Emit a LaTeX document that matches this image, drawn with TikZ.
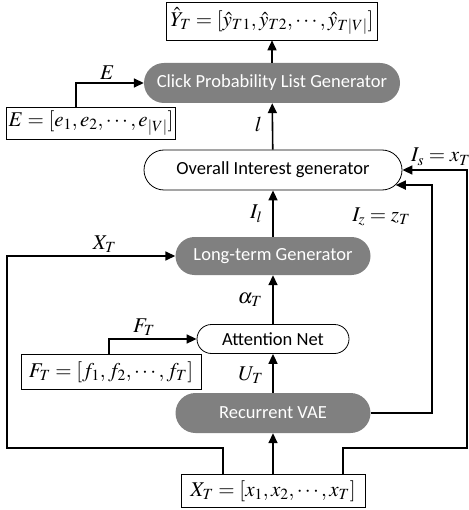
\documentclass[tikz,border=0pt]{standalone}
\usepackage{mathptmx}
\usepackage[no-math]{fontspec}
\setsansfont{Carlito}
\usepackage{tikz}
\usetikzlibrary{arrows.meta,positioning,shapes.misc}
\definecolor{pillgrey}{RGB}{128,128,128}
\tikzset{
  gpill/.style={rounded rectangle,fill=pillgrey,text=white,
                font=\fontsize{18.5}{22}\selectfont\sffamily,inner sep=0pt},
  wpill/.style={rounded rectangle,draw,thick,fill=white,
                font=\fontsize{18.5}{22}\selectfont\sffamily,inner sep=0pt},
  vbox/.style={draw,semithick,inner sep=2pt,font=\fontsize{21}{24}\selectfont},
  lbl/.style={font=\fontsize{21}{24}\selectfont,inner sep=1pt},
  flow/.style={-{Triangle[length=10pt,width=9pt]},line width=1.6pt}
}

\begin{document}
\begin{tikzpicture}[x=1pt,y=-1pt]
  \useasboundingbox (0,0) rectangle (468,510);
  % main column
  \node[vbox,minimum width=211pt,minimum height=38pt] (yhat) at (272,21)
    {$\hat{Y}_T=[\hat{y}_{T1},\hat{y}_{T2},\cdots,\hat{y}_{T|V|}]$};
  \node[gpill,minimum width=256pt,minimum height=40pt] (click) at (272,83) {Click Probability List Generator};
  \node[wpill,minimum width=258pt,minimum height=40pt] (overall) at (273,170) {Overall Interest generator};
  \node[gpill,minimum width=195pt,minimum height=38pt] (long) at (273,256) {Long-term Generator};
  \node[wpill,minimum width=152pt,minimum height=29pt] (att) at (273,339) {Attention Net};
  \node[gpill,minimum width=195pt,minimum height=40pt] (vae) at (273,413) {Recurrent VAE};
  \node[vbox,minimum width=184pt,minimum height=33pt] (xbox) at (273,491)
    {$X_T=[x_1,x_2,\cdots,x_T]$};
  % side inputs
  \node[vbox,minimum width=167pt,minimum height=32pt] (ebox) at (91,123)
    {$E=[e_1,e_2,\cdots,e_{|V|}]$};
  \node[vbox,minimum width=180pt,minimum height=35pt] (fbox) at (111,372)
    {$F_T=[f_1,f_2,\cdots,f_T]$};
  % corner points of the loops
  \coordinate (lb) at (7,448);
  \coordinate (rb) at (467,448);
  \coordinate (rz) at (432,413);

  \draw[flow] (click) -- (yhat);
  \draw[flow] (overall) -- node[lbl,left=9pt,pos=0.55]{$l$} (click);
  \draw[flow] (long) -- node[lbl,left=9pt]{$I_l$} (overall);
  \draw[flow] (att) -- node[lbl,left=9pt]{$\alpha_T$} (long);
  \draw[flow] (vae) -- node[lbl,left=8pt,pos=0.45]{$U_T$} (att);
  \draw[flow] (xbox) -- (vae);
  \draw[flow] ([xshift=-15pt]ebox.north) |- node[lbl,above=2pt,pos=0.73]{$E$} (click.west);
  \draw[flow] ([xshift=-2pt]fbox.north) |- node[lbl,above=2pt,pos=0.7]{$F_T$} (att.west);
  \draw[flow] ([xshift=-50pt]xbox.north) |- (lb) |- node[lbl,above=2pt,pos=0.79]{$X_T$} (long.west);
  \draw[flow] ([xshift=70pt]xbox.north) |- (rb) |- node[lbl,above left=3pt and -5pt,pos=0.5]{$I_s=x_T$} (overall.east);
  \draw[flow] (vae.east) -- (rz) |- node[lbl,left=20pt,pos=0.43]{$I_z=z_T$} (overall.-7.5);
\end{tikzpicture}
\end{document}
